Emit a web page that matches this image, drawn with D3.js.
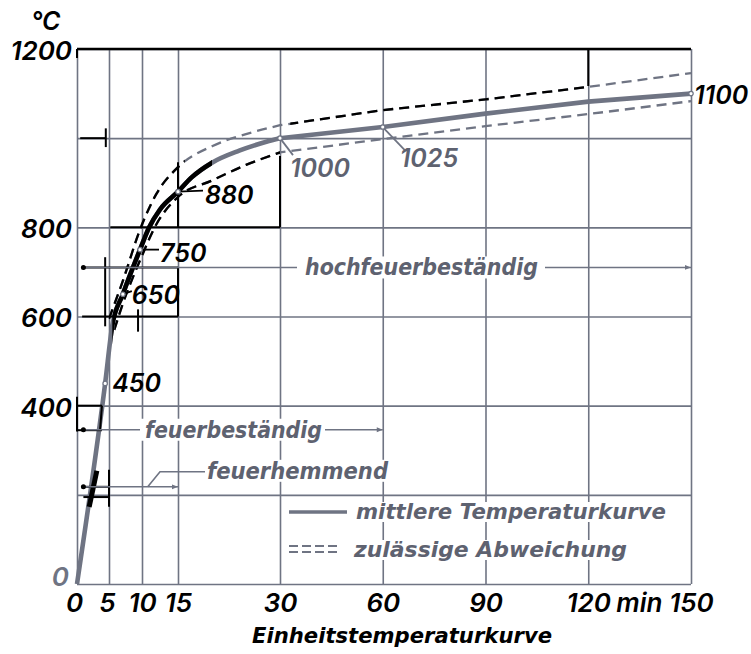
<!DOCTYPE html>
<html>
<head>
<meta charset="utf-8">
<script src="https://cdn.jsdelivr.net/npm/d3@7"></script>
<style>
  body { margin: 0; background: #fff; }
  svg text { font-family: "DejaVu Sans", sans-serif; font-style: italic; font-weight: bold; }
  svg text.num { font-family: Inter, "DejaVu Sans", sans-serif; font-weight: 600; font-style: italic; }
</style>
</head>
<body>
<div id="chart"></div>
<script>
// mean curve: time (min) / temperature (°C)
const minutes  = [0, 4.4, 5.5, 7.1, 9.7, 11, 12.5, 15, 17, 20, 24, 28, 30, 60, 90, 120, 150];
const meanTemp = [0, 450, 580, 650, 750, 800, 840, 880, 912, 945, 972, 992, 1000, 1025, 1055, 1082, 1100];

// permitted deviation (upper / lower)
const upperMin  = [5, 7.1, 9.7, 12, 15, 20, 25, 30, 60, 90, 120, 150];
const upperTemp = [595, 680, 795, 875, 935, 982, 1009, 1029, 1063, 1087, 1115, 1146];
const lowerMin  = [5.8, 7.1, 9.7, 12, 15, 20, 25, 30, 60, 90, 120, 150];
const lowerTemp = [570, 629, 726, 807, 868, 905, 940, 968, 998, 1027, 1054, 1083];

// labelled points
const markMin  = [4.4, 7.1, 9.7, 15, 30, 60, 150];
const markTemp = [450, 650, 750, 880, 1000, 1025, 1100];

// axes
const xTicks = [0, 5, 10, 15, 30, 60, 90, 120, 150];
const yGrid = [0, 200, 400, 600, 800, 1000, 1200];
const yLabels = [0, 400, 600, 800, 1200];

// fire resistance classes
const classNames = ["hochfeuerbeständig", "feuerbeständig", "feuerhemmend"];
const classEnd = [150, 60, 15];
const classTemp = [710, 346, 218];

// black construction marks [min1, °C1, min2, °C2]
const inkSegs = [
  [0.5, 1000, 4.5, 1000], [4.5, 980, 4.5, 1022],
  [5.2, 800, 30, 800], [15, 946, 15, 800], [30, 960, 30, 800],
  [1, 710, 15, 710], [4.4, 733, 4.4, 578], [15, 710, 15, 600],
  [0.8, 600, 15, 600], [9.4, 616, 9.4, 566],
  [0, 420, 0, 342], [0, 400, 3.9, 400], [0, 345, 3.9, 345], [3.9, 400, 3.6, 345],
  [5, 256, 5, 173], [1, 218, 5, 218], [1, 195, 5, 195],
  [120, 1200, 120, 1117], [0, 1200, 0, 1180]
];

const grey = "#6f7483", textGrey = "#5e6270";

const svg = d3.select("#chart").append("svg")
  .attr("width", 751).attr("height", 654);

// first 30 minutes drawn at double scale
const x = d3.scaleLinear()
  .domain([0, 5, 10, 15, 30, 150])
  .range([77, 109, 142, 178, 280, 691]);
const y = d3.scaleLinear().domain([0, 1200]).range([584, 49]);

const defs = svg.append("defs");
defs.append("marker")
  .attr("id", "arr").attr("viewBox", "0 0 10 10")
  .attr("refX", 10).attr("refY", 5)
  .attr("markerWidth", 9).attr("markerHeight", 6)
  .attr("markerUnits", "userSpaceOnUse")
  .attr("orient", "auto")
  .append("path").attr("d", "M0,1L10,5L0,9Z").attr("fill", grey);

// X grid + labels
const xAxis = svg.append("g")
  .attr("transform", `translate(0,${y(0)})`)
  .call(d3.axisBottom(x).tickValues(xTicks).tickSize(-(y(0) - y(1200))).tickPadding(0));
xAxis.select(".domain").remove();
xAxis.selectAll("line").attr("stroke", grey).attr("stroke-width", 1.6);
xAxis.selectAll("text")
  .attr("class", "num")
  .attr("y", 28).attr("dy", null)
  .attr("fill", "#000").style("font-size", "26px");
xAxis.selectAll(".tick").filter(d => d === 0).select("text").attr("dx", -3);
xAxis.selectAll(".tick").filter(d => d === 5).select("text").attr("dx", -2);

svg.append("text").attr("class", "num")
  .attr("x", x(120) + 28).attr("y", y(0) + 28)
  .style("font-size", "26px").text("min");

// Y grid + labels
const yAxis = svg.append("g")
  .attr("transform", `translate(${x(0)},0)`)
  .call(d3.axisLeft(y).tickValues(yGrid).tickSize(-(x(150) - x(0))).tickPadding(5)
    .tickFormat(d => yLabels.includes(d) ? d : ""));
yAxis.select(".domain").remove();
yAxis.selectAll("line").attr("stroke", grey).attr("stroke-width", 1.6);
yAxis.selectAll("text")
  .attr("class", "num")
  .attr("dy", d => d === 0 ? "0.05em" : "0.4em")
  .attr("x", d => d === 0 ? -8 : -5)
  .attr("fill", d => d === 0 ? grey : "#000")
  .style("font-size", "26px");

svg.append("text").attr("class", "num").attr("x", 31).attr("y", 30)
  .style("font-size", "25px").text("°C");

// top border in black
svg.append("line")
  .attr("x1", x(0)).attr("x2", x(150))
  .attr("y1", y(1200)).attr("y2", y(1200))
  .attr("stroke", "#000").attr("stroke-width", 2.6);

// text with white knock-out behind it
const bgLayer = svg.append("g");
const markLayer = svg.append("g");
const textLayer = svg.append("g");

function label(px, py, str, opts) {
  const t = textLayer.append("text")
    .attr("x", px).attr("y", py)
    .attr("fill", opts.color || "#000")
    .style("font-size", opts.size + "px")
    .text(str);
  if (opts.cls) t.attr("class", opts.cls);
  if (opts.len) t.attr("textLength", opts.len).attr("lengthAdjust", "spacingAndGlyphs");
  if (opts.bg) {
    const b = t.node().getBBox();
    bgLayer.append("rect")
      .attr("x", b.x - 4).attr("y", b.y + 2)
      .attr("width", b.width + 8).attr("height", b.height - 4)
      .attr("fill", "#fff");
  }
  return t;
}

// curves: smooth rise up to 30 min, straight pieces after
function curvePath(xs, ys) {
  const idx = d3.range(xs.length);
  const early = idx.filter(i => xs[i] <= 30), late = idx.filter(i => xs[i] >= 30);
  const smooth = d3.line().x(i => x(xs[i])).y(i => y(ys[i])).curve(d3.curveMonotoneX);
  const straight = d3.line().x(i => x(xs[i])).y(i => y(ys[i]));
  return smooth(early) + straight(late).replace(/^M/, "L");
}

function clipRange(id, t0, t1) {
  defs.append("clipPath").attr("id", id).append("rect")
    .attr("x", x(t0)).attr("width", x(t1) - x(t0))
    .attr("y", 0).attr("height", 654);
  return `url(#${id})`;
}

function drawCurve(xs, ys, width, dash, inkRanges, key) {
  const d = curvePath(xs, ys);
  markLayer.append("path")
    .attr("d", d).attr("fill", "none")
    .attr("stroke", grey).attr("stroke-width", width)
    .attr("stroke-dasharray", dash);
  inkRanges.forEach((r, i) => {
    markLayer.append("path")
      .attr("d", d).attr("fill", "none")
      .attr("stroke", "#000").attr("stroke-width", width)
      .attr("stroke-dasharray", dash)
      .attr("clip-path", clipRange(key + i, r[0], r[1]));
  });
}

drawCurve(upperMin, upperTemp, 2.3, "10,6", [[5, 16], [33, 120]], "up");
drawCurve(lowerMin, lowerTemp, 2.3, "10,6", [[5.8, 30]], "lo");
drawCurve(minutes, meanTemp, 4.6, null, [[5.5, 20]], "mean");

// construction marks
markLayer.selectAll(".ink").data(inkSegs).join("line")
  .attr("x1", d => x(d[0])).attr("y1", d => y(d[1]))
  .attr("x2", d => x(d[2])).attr("y2", d => y(d[3]))
  .attr("stroke", "#000").attr("stroke-width", 2);
markLayer.append("line")
  .attr("x1", x(3.1)).attr("y1", y(254)).attr("x2", x(1.9)).attr("y2", y(173))
  .attr("stroke", "#000").attr("stroke-width", 5);

// class arrows
const classLayout = [
  { tx: 305, len: 233, gap: [297, 545] },
  { tx: 145, len: 177, gap: [140, 325] },
  { tx: 207, len: 181, gap: null }
];
classNames.forEach((name, i) => {
  const cy = y(classTemp[i]);
  const L = classLayout[i];
  label(L.tx, cy + (i === 2 ? -8 : 8), name, { size: 23, len: L.len, color: textGrey, bg: true });
  const g = markLayer.append("g").attr("stroke", grey).attr("stroke-width", 1.6).attr("fill", "none");
  if (L.gap) {
    g.append("line").attr("x1", x(1)).attr("x2", L.gap[0]).attr("y1", cy).attr("y2", cy);
    g.append("line").attr("x1", L.gap[1]).attr("x2", x(classEnd[i])).attr("y1", cy).attr("y2", cy)
      .attr("marker-end", "url(#arr)");
  } else {
    g.append("line").attr("x1", x(1)).attr("x2", x(classEnd[i])).attr("y1", cy).attr("y2", cy)
      .attr("marker-end", "url(#arr)");
    g.append("path").attr("d", `M${x(10.8)},${cy}L${x(12.5)},${cy - 15}L${L.tx - 2},${cy - 15}`);
  }
  markLayer.append("circle").attr("cx", x(1)).attr("cy", cy).attr("r", 2.5).attr("fill", "#000");
});

// point labels
const markLayout = [
  { dx: 7, dy: 9, color: "#000", lead: null },
  { dx: 9, dy: 10, color: "#000", lead: [9, -3] },
  { dx: 20, dy: 12, color: "#000", lead: [19, 0] },
  { dx: 27, dy: 12, color: "#000", lead: [25, -1] },
  { dx: 10, dy: 39, color: textGrey, lead: [13, 17] },
  { dx: 17, dy: 40, color: textGrey, lead: [22, 23] },
  { dx: 3, dy: 10, color: "#000", lead: null }
];
markMin.forEach((m, i) => {
  const px = x(m), py = y(markTemp[i]), L = markLayout[i];
  if (L.lead) {
    markLayer.append("line")
      .attr("x1", px).attr("y1", py).attr("x2", px + L.lead[0]).attr("y2", py + L.lead[1])
      .attr("stroke", L.color === "#000" ? "#000" : grey).attr("stroke-width", 1.8);
  }
  markLayer.append("circle").attr("cx", px).attr("cy", py).attr("r", 2.2)
    .attr("fill", "#fff").attr("stroke", grey).attr("stroke-width", 1.2);
  label(px + L.dx, py + L.dy, markTemp[i],
    { size: 25, cls: "num", color: L.color, bg: i === 4 || i === 5 });
});

// legend
markLayer.append("line").attr("x1", 289).attr("x2", 347).attr("y1", 512).attr("y2", 512)
  .attr("stroke", grey).attr("stroke-width", 3.5);
[546, 552].forEach(ly => {
  markLayer.append("line").attr("x1", 289).attr("x2", 341).attr("y1", ly).attr("y2", ly)
    .attr("stroke", grey).attr("stroke-width", 2).attr("stroke-dasharray", "9,4");
});
label(356, 519, "mittlere Temperaturkurve", { size: 21, len: 310, color: textGrey, bg: true });
label(354, 557, "zulässige Abweichung", { size: 21, len: 273, color: textGrey, bg: true });

// x title
svg.append("text").attr("x", 252).attr("y", 643)
  .attr("textLength", 300).attr("lengthAdjust", "spacingAndGlyphs")
  .style("font-size", "22px").text("Einheitstemperaturkurve");
</script>
</body>
</html>
